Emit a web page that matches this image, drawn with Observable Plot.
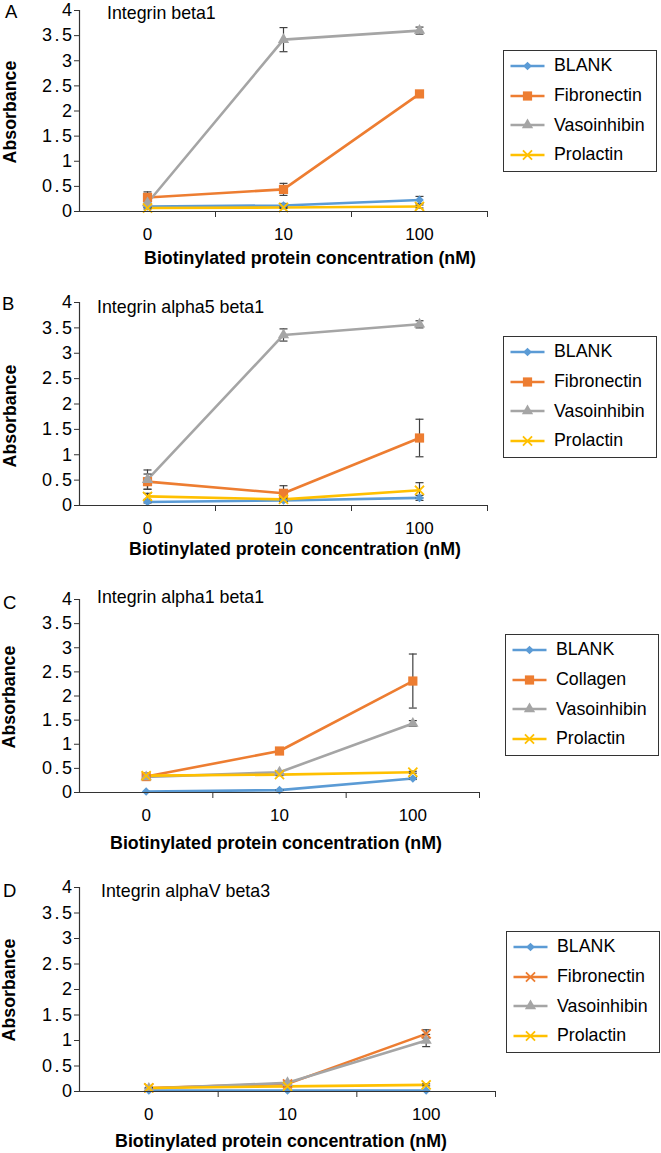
<!DOCTYPE html>
<html><head><meta charset="utf-8">
<script src="https://cdn.jsdelivr.net/npm/d3@7"></script>
<script src="https://cdn.jsdelivr.net/npm/@observablehq/plot@0.6"></script>
<style>
body{margin:0;background:#fff;font-family:"Liberation Sans",Arial,sans-serif;color:#000;}
#root{position:relative;width:661px;height:1153px;overflow:hidden;background:#fff;}
.abs{position:absolute;white-space:nowrap;line-height:1;}
.legend{position:absolute;border:1.5px solid #333;box-sizing:border-box;background:#fff;}
.lrow{position:absolute;left:0;height:20px;display:flex;align-items:center;font-size:17.8px;}
svg.plot{position:absolute;left:0;}
</style></head><body><div id="root"></div><script>
// ---------- data ----------
const concentrations = ["0", "10", "100"];
const yTicks = [0, 0.5, 1, 1.5, 2, 2.5, 3, 3.5, 4];
const xTitle = "Biotinylated protein concentration (nM)";
const yTitle = "Absorbance";
const seriesColors = ["#5B9BD5", "#ED7D31", "#A5A5A5", "#FFC000"];

// Panel A
const titleA = "Integrin beta1";
const namesA = ["BLANK", "Fibronectin", "Vasoinhibin", "Prolactin"];
const symbolsA = ["diamond2", "square", "triangle", "times"];
const blankA = [0.10, 0.12, 0.23], blankErrA = [0.02, 0.04, 0.07];
const fibroA = [0.28, 0.44, 2.34], fibroErrA = [0.11, 0.12, 0.03];
const vasoA = [0.17, 3.42, 3.60], vasoErrA = [0.03, 0.24, 0.07];
const prlA = [0.07, 0.08, 0.10], prlErrA = [0.02, 0.02, 0.03];

// Panel B
const titleB = "Integrin alpha5 beta1";
const namesB = ["BLANK", "Fibronectin", "Vasoinhibin", "Prolactin"];
const symbolsB = ["diamond2", "square", "triangle", "times"];
const blankB = [0.07, 0.10, 0.15], blankErrB = [0.02, 0.03, 0.05];
const fibroB = [0.47, 0.24, 1.33], fibroErrB = [0.15, 0.15, 0.37];
const vasoB = [0.51, 3.36, 3.57], vasoErrB = [0.19, 0.12, 0.07];
const prlB = [0.18, 0.12, 0.30], prlErrB = [0.06, 0.04, 0.15];

// Panel C
const titleC = "Integrin alpha1 beta1";
const namesC = ["BLANK", "Collagen", "Vasoinhibin", "Prolactin"];
const symbolsC = ["diamond2", "square", "triangle", "times"];
const blankC = [0.02, 0.05, 0.29], blankErrC = [0, 0.01, 0.02];
const collC = [0.33, 0.86, 2.31], collErrC = [0.02, 0.03, 0.56];
const vasoC = [0.32, 0.42, 1.43], vasoErrC = [0.02, 0.02, 0.06];
const prlC = [0.35, 0.37, 0.42], prlErrC = [0.01, 0.02, 0.02];

// Panel D
const titleD = "Integrin alphaV beta3";
const namesD = ["BLANK", "Fibronectin", "Vasoinhibin", "Prolactin"];
const symbolsD = ["diamond2", "times", "triangle", "times"];
const blankD = [0.02, 0.02, 0.02], blankErrD = [0, 0, 0];
const fibroD = [0.07, 0.15, 1.13], fibroErrD = [0.01, 0.02, 0.08];
const vasoD = [0.06, 0.17, 1.00], vasoErrD = [0.01, 0.02, 0.12];
const prlD = [0.07, 0.10, 0.13], prlErrD = [0.01, 0.01, 0.02];

// ---------- layout ----------
const panels = [
  {letter: "A", title: titleA, names: namesA, symbols: symbolsA,
   values: [blankA, fibroA, vasoA, prlA], errors: [blankErrA, fibroErrA, vasoErrA, prlErrA],
   frameTop: 10, frameBottom: 211, right: 487, legend: [503, 50], titlePos: [107, 14], letterPos: [5, 12], yLab: [11, 112], xLab: [310, 252]},
  {letter: "B", title: titleB, names: namesB, symbols: symbolsB,
   values: [blankB, fibroB, vasoB, prlB], errors: [blankErrB, fibroErrB, vasoErrB, prlErrB],
   frameTop: 302, frameBottom: 505, right: 487, legend: [503, 336], titlePos: [97, 308], letterPos: [2, 304], yLab: [11, 416], xLab: [295, 543]},
  {letter: "C", title: titleC, names: namesC, symbols: symbolsC,
   values: [blankC, collC, vasoC, prlC], errors: [blankErrC, collErrC, vasoErrC, prlErrC],
   frameTop: 599, frameBottom: 792, right: 479, legend: [505, 634], titlePos: [97, 598], letterPos: [3, 603], yLab: [10, 697], xLab: [276, 837]},
  {letter: "D", title: titleD, names: namesD, symbols: symbolsD,
   values: [blankD, fibroD, vasoD, prlD], errors: [blankErrD, fibroErrD, vasoErrD, prlErrD],
   frameTop: 887, frameBottom: 1091, right: 495, legend: [506, 931], titlePos: [101, 892], letterPos: [3, 891], yLab: [10, 990], xLab: [281, 1135]}
];

const root = document.getElementById("root");
const axisColor = "#333";
const errColor = "#404040";
const capSymbol = {draw(ctx) { ctx.moveTo(-4, 0); ctx.lineTo(4, 0); }};
const markerR = {diamond2: 3.9, square: 5.2, triangle: 4.2, times: 4.2};

function addText(txt, x, y, opts) {
  const d = document.createElement("div");
  d.className = "abs";
  d.textContent = txt;
  d.style.left = x + "px";
  d.style.top = y + "px";
  d.style.fontSize = (opts.size || 17.8) + "px";
  if (opts.bold) d.style.fontWeight = "bold";
  if (opts.transform) d.style.transform = opts.transform;
  root.appendChild(d);
}

panels.forEach(p => {
  const mt = 12, mb = 32, ml = 79, mr = 12;
  const rows = [];
  p.values.forEach((vals, si) => vals.forEach((v, i) =>
    rows.push({series: p.names[si], si, xi: i + 0.5, v, e: p.errors[si][i]})));
  const errRows = rows.filter(d => d.e > 0);
  const marks = [
    Plot.line(rows, {x: "xi", y: "v", z: "series", stroke: "series", strokeWidth: 2.6}),
    Plot.ruleX(errRows, {x: "xi", y1: d => Math.max(0, d.v - d.e), y2: d => d.v + d.e, stroke: errColor, strokeWidth: 1.2}),
    Plot.dot(errRows, {x: "xi", y: d => d.v + d.e, symbol: capSymbol, stroke: errColor, fill: "none", strokeWidth: 1.2}),
    Plot.dot(errRows.filter(d => d.v - d.e > 0.02), {x: "xi", y: d => d.v - d.e, symbol: capSymbol, stroke: errColor, fill: "none", strokeWidth: 1.2})
  ];
  p.names.forEach((name, si) => {
    const sym = p.symbols[si];
    const data = rows.filter(d => d.si === si);
    if (sym === "times") {
      marks.push(Plot.dot(data, {x: "xi", y: "v", symbol: sym, r: markerR[sym], stroke: "series", fill: "none", strokeWidth: 1.8}));
    } else {
      marks.push(Plot.dot(data, {x: "xi", y: "v", symbol: sym, r: markerR[sym], fill: "series", stroke: "none"}));
    }
  });
  marks.push(
    Plot.ruleX([0], {stroke: axisColor, strokeWidth: 1.2}),
    Plot.ruleY([0], {stroke: axisColor, strokeWidth: 1.2}),
    Plot.axisY({ticks: yTicks, tickSize: 5, tickPadding: 0, tickFormat: d => String(d), label: null, fontSize: 18, stroke: axisColor}),
    Plot.axisX({ticks: [1, 2, 3], tickSize: 6, tickFormat: () => "", label: null, stroke: axisColor}),
    Plot.axisX({ticks: [0.5, 1.5, 2.5], tickSize: 0, tickPadding: 16, tickFormat: d => concentrations[Math.floor(d)], label: null, fontSize: 17})
  );
  const chart = Plot.plot({
    width: p.right + mr,
    height: (p.frameBottom - p.frameTop) + mt + mb,
    marginTop: mt, marginBottom: mb, marginLeft: ml, marginRight: mr,
    style: {fontFamily: "Liberation Sans, Arial, sans-serif", fontSize: "17px", color: "#000", background: "transparent", overflow: "visible"},
    x: {domain: [0, 3]},
    y: {domain: [0, 4]},
    color: {domain: p.names, range: seriesColors},
    marks
  });
  chart.classList.add("plot");
  chart.style.position = "absolute";
  chart.style.top = (p.frameTop - mt) + "px";
  chart.style.left = "0px";
  chart.querySelectorAll('g[aria-label="y-axis tick label"]').forEach(g => g.style.letterSpacing = "2.5px");
  root.appendChild(chart);

  addText(p.letter, p.letterPos[0], p.letterPos[1], {size: 18.5, transform: "translateY(-50%)"});
  addText(p.title, p.titlePos[0], p.titlePos[1], {size: 17.8, transform: "translateY(-50%)"});
  addText(yTitle, p.yLab[0], p.yLab[1], {size: 17.8, bold: true, transform: "translate(-50%,-50%) rotate(-90deg)"});
  addText(xTitle, p.xLab[0], p.xLab[1] - 2.3, {size: 17.8, bold: true, transform: "translateX(-50%)"});

  // legend
  const lg = document.createElement("div");
  lg.className = "legend";
  lg.style.left = p.legend[0] + "px";
  lg.style.top = p.legend[1] + "px";
  lg.style.width = "154px";
  lg.style.height = "122px";
  const rowCenters = [16, 46, 75.5, 105];
  const d3sym = {diamond2: d3.symbolDiamond2, square: d3.symbolSquare, triangle: d3.symbolTriangle, times: d3.symbolTimes};
  p.names.forEach((name, si) => {
    const row = document.createElement("div");
    row.className = "lrow";
    row.style.top = (rowCenters[si] - 10 - 1.5) + "px";
    const sym = p.symbols[si];
    const color = seriesColors[si];
    const r = markerR[sym];
    const path = d3.symbol().type(d3sym[sym]).size(Math.PI * r * r)();
    const filled = sym !== "times";
    row.innerHTML =
      `<svg width="50" height="20" style="flex:none">` +
      `<line x1="6.5" x2="40.5" y1="10" y2="10" stroke="${color}" stroke-width="2.6"/>` +
      `<path transform="translate(23.5,10)" d="${path}" ${filled ? `fill="${color}"` : `fill="none" stroke="${color}" stroke-width="1.8"`}/>` +
      `</svg><span>${name}</span>`;
    lg.appendChild(row);
  });
  root.appendChild(lg);
});
</script></body></html>
